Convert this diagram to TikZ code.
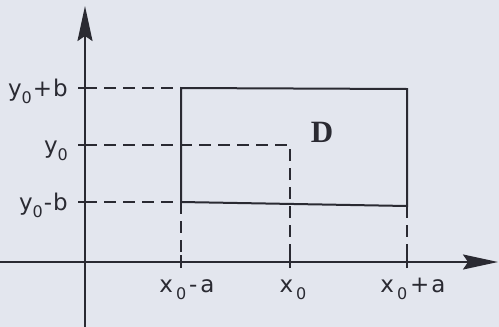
\documentclass[tikz,border=0pt]{standalone}
\usepackage{fontspec}
\setmainfont{DejaVu Sans}
\newfontfamily\dfont{Liberation Serif}
\usetikzlibrary{arrows.meta}
\definecolor{bg}{RGB}{227,230,238}
\definecolor{ink}{RGB}{42,42,50}
\newcommand{\sbz}{\raisebox{-0.32em}{\fontsize{16}{16}\selectfont 0}}
\begin{document}
\begin{tikzpicture}[x=1pt,y=-1pt,
  axis/.style={ink,line width=2pt,-{Stealth[length=35pt,width=15pt,inset=5pt]}},
  guide/.style={ink,line width=1.5pt,dash pattern=on 12pt off 7pt},
  rect/.style={ink,line width=2pt},
  lab/.style={text=ink,font=\fontsize{23}{23}\selectfont,inner sep=0pt},
  tick/.style={ink,line width=1.5pt}]
\fill[bg] (0,0) rectangle (499,327);
\useasboundingbox (0,0) rectangle (499,327);
% axes
\coordinate (ybot) at (85,327);
\coordinate (ytop) at (85,6);
\coordinate (xl) at (0,262);
\coordinate (xr) at (498,262);
\draw[axis] (ybot) -- (ytop);
\draw[axis] (xl) -- (xr);
% rectangle
\coordinate (A) at (181,88);
\coordinate (B) at (407,89);
\coordinate (C) at (407,206);
\coordinate (E) at (181,202);
\draw[rect] (A) -- (B) -- (C) -- (E) -- cycle;
% guide lines
\coordinate (yt) at (85,88);
\coordinate (ym) at (85,145);
\coordinate (yb) at (85,202);
\coordinate (xa) at (181,262);
\coordinate (xm) at (290,262);
\coordinate (xb) at (407,262);
\coordinate (cm) at (290,145);
\draw[guide] (yt) -- (A);
\draw[guide] (yb) -- (E);
\draw[guide] (ym) -- (cm) -- (xm);
\draw[guide] (E) -- (xa);
\draw[guide] (C) -- (xb);
% ticks
\foreach \p in {yt,ym,yb}{\draw[tick] ([xshift=-7pt]\p) -- ([xshift=5pt]\p);}
\foreach \p in {xa,xm,xb}{\draw[tick] ([yshift=-6pt]\p) -- ([yshift=7pt]\p);}
% labels
\node[lab,anchor=base east] (l1) at (68,96) {y\sbz\kern1pt+\kern1pt b};
\node[lab,anchor=base east] (l2) at (68,153) {y\sbz};
\node[lab,anchor=base east] (l3) at (68,210) {y\sbz\kern1pt-\kern1pt b};
\node[lab,anchor=base] (l4) at (187,292) {x\kern3pt\sbz\kern3pt-\kern3pt a};
\node[lab,anchor=base] (l5) at (293,292) {x\kern3pt\sbz};
\node[lab,anchor=base] (l6) at (413,292) {x\kern3pt\sbz\kern3pt+\kern2pt a};
\node[text=ink,inner sep=0pt,anchor=base,font=\dfont\bfseries\fontsize{31}{31}\selectfont] (D) at (322,142) {D};
\end{tikzpicture}
\end{document}
